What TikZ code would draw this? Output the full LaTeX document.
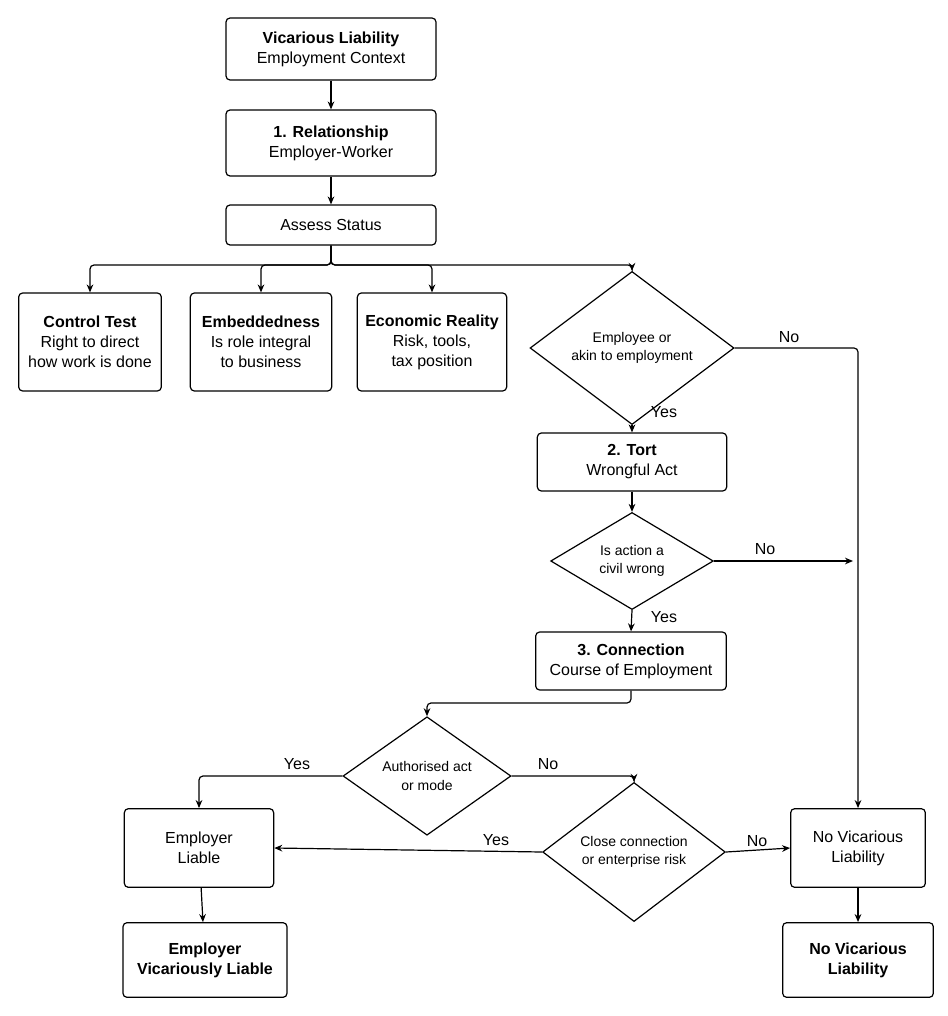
\documentclass[tikz,border=0pt]{standalone}
\usepackage{fontspec}
\setmainfont{Liberation Sans}
\usetikzlibrary{shapes.geometric,arrows.meta}
\begin{document}
\begin{tikzpicture}[x=0.75pt,y=-0.75pt,
  box/.style={draw,rounded corners=3pt,line width=0.9pt,align=center,inner sep=0pt,font=\fontsize{12}{15}\selectfont},
  dia/.style={draw,diamond,line width=0.9pt,align=center,inner sep=0pt,font=\fontsize{10.5}{14}\selectfont},
  arr/.style={-{Stealth[length=6pt,width=5pt]},line width=0.9pt,rounded corners=3pt},
  lab/.style={font=\fontsize{12}{14}\selectfont}]
\useasboundingbox (0,0) rectangle (947,1016);
\node[box,minimum width=157.5pt,minimum height=46.5pt] (top) at (331,49) {\textbf{Vicarious Liability}\\Employment Context};
\node[box,minimum width=157.5pt,minimum height=49.5pt] (rel) at (331,143) {\textbf{1. Relationship}\\Employer-Worker};
\node[box,minimum width=157.5pt,minimum height=30pt] (as) at (331,225) {Assess Status};
\node[box,minimum width=107pt,minimum height=73.5pt] (ct) at (90,342) {\textbf{Control Test}\\Right to direct\\how work is done};
\node[box,minimum width=106pt,minimum height=73.5pt] (em) at (261,342) {\textbf{Embeddedness}\\Is role integral\\to business};
\node[box,minimum width=112pt,minimum height=73.5pt] (ec) at (432,342) {\textbf{Economic Reality}\\Risk, tools,\\tax position};
\node[dia,minimum width=153pt,minimum height=82.5pt] (d1) at (632,348) {Employee or\\akin to employment};
\node[box,minimum width=142pt,minimum height=43.5pt] (tort) at (632,462) {\textbf{2. Tort}\\Wrongful Act};
\node[dia,minimum width=122pt,minimum height=69pt] (d2) at (632,561) {Is action a\\civil wrong};
\node[box,minimum width=143pt,minimum height=43.5pt] (con) at (631,661) {\textbf{3. Connection}\\Course of Employment};
\node[dia,minimum width=126pt,minimum height=76pt] (d3) at (427,776) {Authorised act\\or mode};
\node[dia,minimum width=137pt,minimum height=75pt] (d4) at (634,852) {Close connection\\or enterprise risk};
\node[box,minimum width=112pt,minimum height=59pt] (el) at (199,848) {Employer\\Liable};
\node[box,minimum width=123pt,minimum height=56pt] (evl) at (205,960) {\textbf{Employer}\\\textbf{Vicariously Liable}};
\node[box,minimum width=101pt,minimum height=59pt] (nv) at (858,848) {No Vicarious\\Liability};
\node[box,minimum width=113pt,minimum height=56pt] (nv2) at (858,960) {\textbf{No Vicarious}\\\textbf{Liability}};
\coordinate (rt) at (853,561);
\draw[arr] (top) -- (rel);
\draw[arr] (rel) -- (as);
\draw[arr] (as.south) |- (90,265) -- (ct.north);
\draw[arr] (as.south) |- (261,265) -- (em.north);
\draw[arr] (as.south) |- (432,265) -- (ec.north);
\draw[arr] (as.south) |- (632,265) -- (d1.north);
\draw[arr] (d1.east) -| (nv.north);
\node[lab] at (789,337) {No};
\draw[arr] (d1.south) -- (tort.north);
\node[lab] at (664,412) {Yes};
\draw[arr] (tort) -- (d2);
\draw[arr] (d2.east) -- (rt);
\node[lab] at (765,549) {No};
\draw[arr] (d2.south) -- (con.north);
\node[lab] at (664,617) {Yes};
\draw[arr] (con.south) |- (427,703) -- (d3.north);
\draw[arr] (d3.west) -| (el.north);
\node[lab] at (297,764) {Yes};
\draw[arr] (d3.east) -| (d4.north);
\node[lab] at (548,764) {No};
\draw[arr] (d4.west) -- (el.east);
\node[lab] at (496,840) {Yes};
\draw[arr] (d4.east) -- (nv.west);
\node[lab] at (757,841) {No};
\draw[arr] (el) -- (evl);
\draw[arr] (nv) -- (nv2);
\end{tikzpicture}
\end{document}
